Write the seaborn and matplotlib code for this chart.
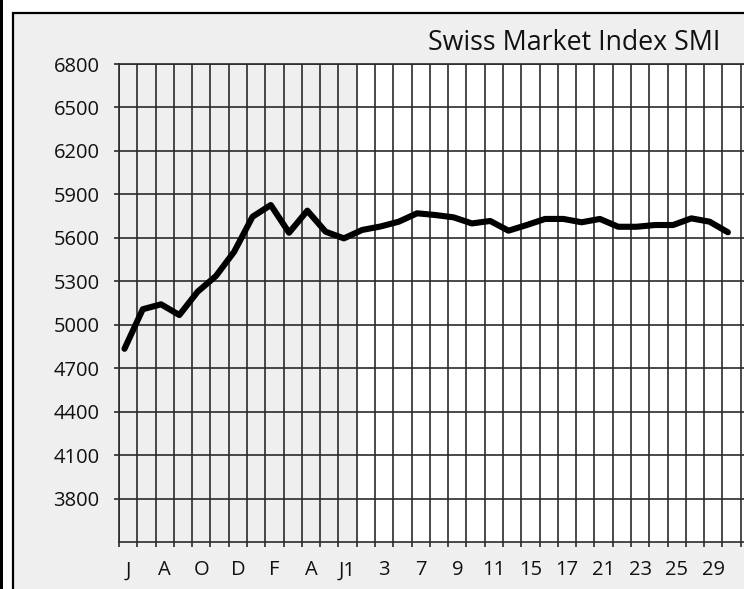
import numpy as np
import pandas as pd
import matplotlib
matplotlib.use("Agg")
import matplotlib.pyplot as plt
import matplotlib.patches as mpatches
from matplotlib.ticker import FixedLocator, NullFormatter, FixedFormatter
import seaborn as sns

# ---- data -------------------------------------------------------------
tick_labels = ["J", "A", "O", "D", "F", "A", "J1", "3", "7", "9",
               "11", "15", "17", "21", "23", "25", "29"]
smi_values = [4835, 5108, 5142, 5068, 5229, 5337, 5505, 5746, 5827, 5636,
              5788, 5643, 5597, 5655, 5679, 5712, 5770, 5758, 5742, 5700,
              5717, 5650, 5689, 5731, 5731, 5708, 5731, 5677, 5677, 5689,
              5689, 5735, 5712, 5639]
y_ticks = [3800, 4100, 4400, 4700, 5000, 5300, 5600, 5900, 6200, 6500, 6800]
n_monthly = 13  # shaded monthly section
title = "Swiss Market Index SMI"

# ---- style ------------------------------------------------------------
sns.set_theme(style="white")
plt.rcParams["font.family"] = ["Open Sans", "DejaVu Sans"]

W, H = 744, 589
fig = plt.figure(figsize=(W / 100, H / 100), dpi=100, facecolor="white")

BG = "#efefef"
GRID = "#2b2b2b"

# figure decorations: thick left strip and framed grey panel
fig.patches.append(mpatches.Rectangle((0, 0), 3 / W, 1, transform=fig.transFigure,
                                      facecolor="black", edgecolor="none", zorder=-2))
fig.patches.append(mpatches.Rectangle((13 / W, -0.1), 1.2, (H - 13) / H + 0.1,
                                      transform=fig.transFigure, facecolor=BG,
                                      edgecolor="black", linewidth=1.6, zorder=-2))

x0 = 119 / W
ybot = (H - 542.3) / H
ytop = (H - 64) / H
ax = fig.add_axes([x0, ybot, 1 - x0, ytop - ybot])
ax.set_zorder(1)
ax.set_facecolor("white")

step = (740.7 - 119) / 34
xmax = (W - 119) / step
ax.set_xlim(0, xmax)
ax.set_ylim(3500, 6800)

ax.axvspan(0, n_monthly, color=BG, zorder=0, lw=0)

df = pd.DataFrame({"pos": np.arange(len(smi_values)) + 0.3, "SMI": smi_values})
sns.lineplot(data=df, x="pos", y="SMI", ax=ax, color="black", linewidth=4.4,
             zorder=5, solid_capstyle="round", solid_joinstyle="round")

# grid
ax.xaxis.set_major_locator(FixedLocator(np.arange(0, 35)))
ax.xaxis.set_major_formatter(NullFormatter())
ax.xaxis.set_minor_locator(FixedLocator(np.arange(len(tick_labels)) * 2 + 0.5))
ax.xaxis.set_minor_formatter(FixedFormatter(tick_labels))
ax.set_yticks(y_ticks)
ax.set_yticklabels([str(v) for v in y_ticks])
ax.grid(True, which="major", axis="both", color=GRID, linewidth=1.2, zorder=1)
ax.set_axisbelow(True)

ax.tick_params(axis="x", which="major", direction="out", length=3.6, width=1.2,
               color=GRID, bottom=True)
ax.tick_params(axis="x", which="minor", length=0, pad=13, labelsize=14.5,
               labelcolor="#111111", bottom=True)
ax.tick_params(axis="y", which="major", direction="out", length=3.6, width=1.2,
               color=GRID, left=True, pad=10.5, labelsize=14.5, labelcolor="#111111")

for side in ["left", "bottom", "top"]:
    ax.spines[side].set_visible(True)
    ax.spines[side].set_color(GRID)
    ax.spines[side].set_linewidth(1.2)
ax.spines["right"].set_visible(False)
ax.set_xlabel("")
ax.set_ylabel("")

fig.text(720 / W, (H - 43) / H, title, ha="right", va="center",
         fontsize=19.3, color="#111111")

fig.savefig("out.png", dpi=100, facecolor=fig.get_facecolor())
